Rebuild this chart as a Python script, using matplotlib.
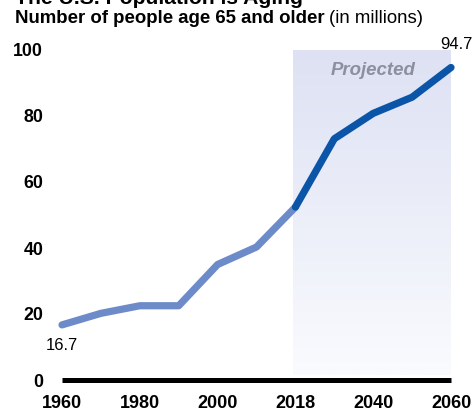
import matplotlib
matplotlib.use("Agg")
import matplotlib.pyplot as plt
import numpy as np
from matplotlib.colors import LinearSegmentedColormap

years = ["1960", "1970", "1980", "1990", "2000", "2010", "2018",
         "2030", "2040", "2050", "2060"]
population = [16.7, 20.2, 22.5, 22.5, 35.0, 40.3, 52.4, 73.1, 80.8, 85.7, 94.7]
tick_labels = ["1960", "1980", "2000", "2018", "2040", "2060"]
projected_start = "2018"

plt.rcParams['font.family'] = ['Liberation Sans', 'DejaVu Sans']

W, H = 475, 411
fig = plt.figure(figsize=(W / 100, H / 100), dpi=100)
ax = fig.add_axes([62 / W, (H - 380) / H, (451 - 62) / W, 330 / H])

x = np.arange(len(years))
ps = years.index(projected_start)

# projected gradient region
cmap = LinearSegmentedColormap.from_list("proj", ["#fafbfe", "#dde1f3"])
grad = np.linspace(0, 1, 256).reshape(-1, 1)
ax.imshow(grad, cmap=cmap, origin="lower", aspect="auto",
          extent=[ps - 0.05, x[-1] + 0.02, 1.5, 100.3], zorder=0)

ax.plot(x[:ps + 1], population[:ps + 1], color="#6d8bc9", lw=5.2,
        solid_capstyle="round", zorder=3, clip_on=False)
ax.plot(x[ps:], population[ps:], color="#0a55a8", lw=5.2,
        solid_capstyle="round", zorder=4, clip_on=False)

ax.text(8, 93.7, "Projected", ha="center", va="center", fontsize=13.4,
        fontweight="bold", fontstyle="italic", color="#8c8f9d")
ax.text(x[-1] + 0.15, 101.6, f"{population[-1]}", ha="center", va="center",
        fontsize=12, color="black", clip_on=False)
ax.text(x[0], 10.6, f"{population[0]}", ha="center", va="center",
        fontsize=12, color="black")

ax.set_xlim(0, len(years) - 1)
ax.set_ylim(0, 100)
ax.set_xticks([years.index(t) for t in tick_labels])
ax.set_xticklabels(tick_labels, fontsize=13, fontweight="bold")
ax.set_yticks([0, 20, 40, 60, 80, 100])
ax.set_yticklabels(["0", "20", "40", "60", "80", "100"], fontsize=12.8,
                   fontweight="bold")
ax.tick_params(axis="both", length=0)
ax.tick_params(axis="y", pad=13.5)
ax.tick_params(axis="x", pad=11)
for s in ["top", "right", "left"]:
    ax.spines[s].set_visible(False)
ax.spines["bottom"].set_linewidth(3.6)
ax.spines["bottom"].set_zorder(5)
ax.spines["bottom"].set_capstyle("butt")
ax.patch.set_alpha(0)

fig.text(15 / W, 1 - 4 / H, "The U.S. Population is Aging", fontsize=15.2,
         fontweight="bold", ha="left", va="baseline")
t1 = fig.text(15 / W, 1 - 23 / H, "Number of people age 65 and older",
              fontsize=13.4, fontweight="bold", ha="left", va="baseline")
fig.canvas.draw()
bb = t1.get_window_extent()
fig.text(bb.x1 / W + 4 / W, 1 - 23 / H, "(in millions)", fontsize=13.4,
         ha="left", va="baseline")

fig.savefig("out.png", dpi=100)
